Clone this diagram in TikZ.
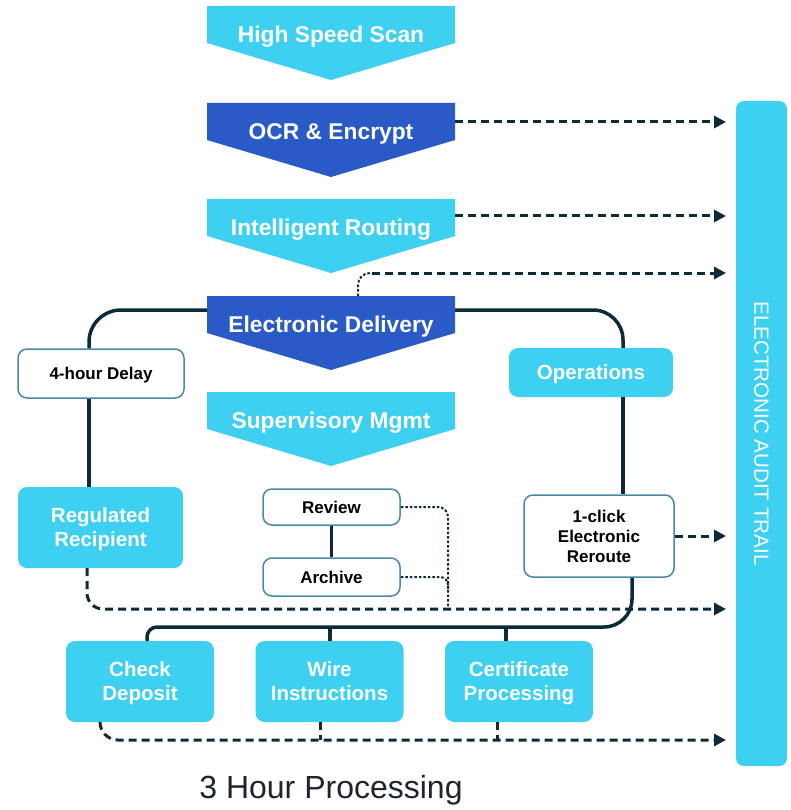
\documentclass[tikz,border=0pt]{standalone}
\usepackage{fontspec}
\setmainfont{Liberation Sans}
\usetikzlibrary{arrows.meta,calc}
\definecolor{cyanc}{HTML}{3DD0F0}
\definecolor{bluec}{HTML}{2A5AC6}
\definecolor{darkc}{HTML}{0E2B3A}
\definecolor{bordc}{HTML}{4A88A8}
\definecolor{textc}{HTML}{1E2430}
\newcommand\chevron[5]{%
  \fill[#3] (207,#2) -- (455,#2) -- (455,#2+37) -- (331,#2+74) -- (207,#2+37) -- cycle;
  \node[chevtext] (#1) at (331,#2+31) {#4};
  \coordinate (#1-e) at (455,#2+#5);
  \coordinate (#1-w) at (207,#2+#5);
}
\tikzset{
  chevtext/.style={text=white, font=\fontsize{22.8}{27}\selectfont\bfseries, inner sep=0pt},
  cbox/.style={rectangle, rounded corners=9pt, fill=cyanc, text=white, align=center,
    font=\fontsize{20.5}{24}\selectfont\bfseries, inner sep=0pt, text depth=0pt},
  wbox/.style={rectangle, rounded corners=9pt, draw=bordc, line width=1.5pt, fill=white,
    text=black, align=center, font=\fontsize{17}{20}\selectfont\bfseries, inner sep=0pt, text depth=0pt},
  solidl/.style={draw=darkc, line width=3.5pt},
  dashl/.style={draw=darkc, line width=3pt, dash pattern=on 8pt off 5pt,
    -{Triangle[length=12pt,width=12pt]}},
  dashnl/.style={draw=darkc, line width=3pt, dash pattern=on 8pt off 5pt},
  dotl/.style={draw=darkc, line width=2pt, dash pattern=on 2.5pt off 2pt},
}
\begin{document}
\begin{tikzpicture}[x=1pt,y=-1pt]
\useasboundingbox (0,0) rectangle (790,810);
\fill[white] (0,0) rectangle (790,810);

% chevrons
\chevron{hss}{6}{cyanc}{High Speed Scan}{19}
\chevron{ocr}{103}{bluec}{OCR \& Encrypt}{19}
\chevron{ir}{199}{cyanc}{Intelligent Routing}{17}
\chevron{ed}{296}{bluec}{Electronic Delivery}{14}
\chevron{sm}{392}{cyanc}{Supervisory Mgmt}{19}

% audit trail bar
\node[rectangle, rounded corners=8pt, fill=cyanc, minimum width=665pt, minimum height=51pt,
  rotate=-90, text=white, font=\fontsize{20.6}{24}\selectfont, inner sep=0pt] (trail) at (761.5,433.5) {ELECTRONIC AUDIT TRAIL};
\coordinate (tx) at (726,0);

% boxes
\node[wbox, minimum width=166pt, minimum height=49pt] (delay) at (101,373.5) {4-hour Delay};
\node[cbox, minimum width=164pt, minimum height=49pt] (ops) at (591,372.5) {Operations};
\node[cbox, minimum width=165pt, minimum height=81pt] (reg) at (100.5,527.5) {Regulated\\Recipient};
\node[wbox, minimum width=137pt, minimum height=36pt] (review) at (331.5,507) {Review};
\node[wbox, minimum width=137pt, minimum height=38pt] (archive) at (331.5,577) {Archive};
\node[wbox, minimum width=150pt, minimum height=82pt] (reroute) at (599,536) {1-click\\Electronic\\Reroute};
\node[cbox, minimum width=148pt, minimum height=81pt] (check) at (140,681.5) {Check\\Deposit};
\node[cbox, minimum width=148pt, minimum height=81pt] (wire) at (329.5,681.5) {Wire\\Instructions};
\node[cbox, minimum width=148pt, minimum height=81pt] (cert) at (519,681.5) {Certificate\\Processing};
\node[text=textc, font=\fontsize{32}{36}\selectfont, inner sep=0pt] (title) at (331,790) {3 Hour Processing};

% helper positions
\coordinate (lx) at (89,0);
\coordinate (rx) at (623,0);
\coordinate (rx2) at (632,0);
\coordinate (cx) at (147,0);
\coordinate (wx) at (330,0);
\coordinate (ctx) at (506,0);
\coordinate (bus) at (400,627);
\coordinate (edtop) at (358,296);
\coordinate (edturn) at (372,273);
\coordinate (rax) at (448,609);
\coordinate (rax2) at (448,589);
\coordinate (regx) at (87,0);
\coordinate (chx) at (100,0);
\coordinate (bline) at (0,740);
\coordinate (wdx) at (320,740);
\coordinate (cdx) at (497,740);

% solid connectors
\draw[solidl, rounded corners=32pt] (ed-w) -| (delay.north -| lx);
\draw[solidl] (delay.south -| lx) -- (reg.north -| lx);
\draw[solidl, rounded corners=30pt] (ed-e) -| (ops.north -| rx);
\draw[solidl] (ops.south -| rx) -- (reroute.north -| rx);
\draw[solidl] (review.south) -- (archive.north);
\draw[solidl, rounded corners=28pt] (reroute.south -| rx2) |- (bus);
\draw[solidl, rounded corners=10pt] (bus) -| (check.north -| cx);
\draw[solidl] (bus -| wx) -- (wire.north -| wx);
\draw[solidl] (bus -| ctx) -- (cert.north -| ctx);

% dashed audit arrows
\draw[dashl] (ocr-e) -- (ocr-e -| tx);
\draw[dashl] (ir-e) -- (ir-e -| tx);
\draw[dotl, rounded corners=12pt] (edtop) |- (edturn);
\draw[dashl] (edturn) -- (edturn -| tx);
\draw[dashl] (reroute.east) -- (reroute.east -| tx);
\draw[dashl, rounded corners=16pt] (reg.south -| regx) |- (rax -| tx);
\draw[dotl, rounded corners=10pt] (review.east) -| (rax);
\draw[dotl, rounded corners=8pt] (archive.east) -| (rax2);
\draw[dashl, rounded corners=18pt] (check.south -| chx) |- (bline -| tx);
\draw[dashnl] (wire.south -| wdx) -- (wdx);
\draw[dashnl] (cert.south -| cdx) -- (cdx);
\end{tikzpicture}
\end{document}
